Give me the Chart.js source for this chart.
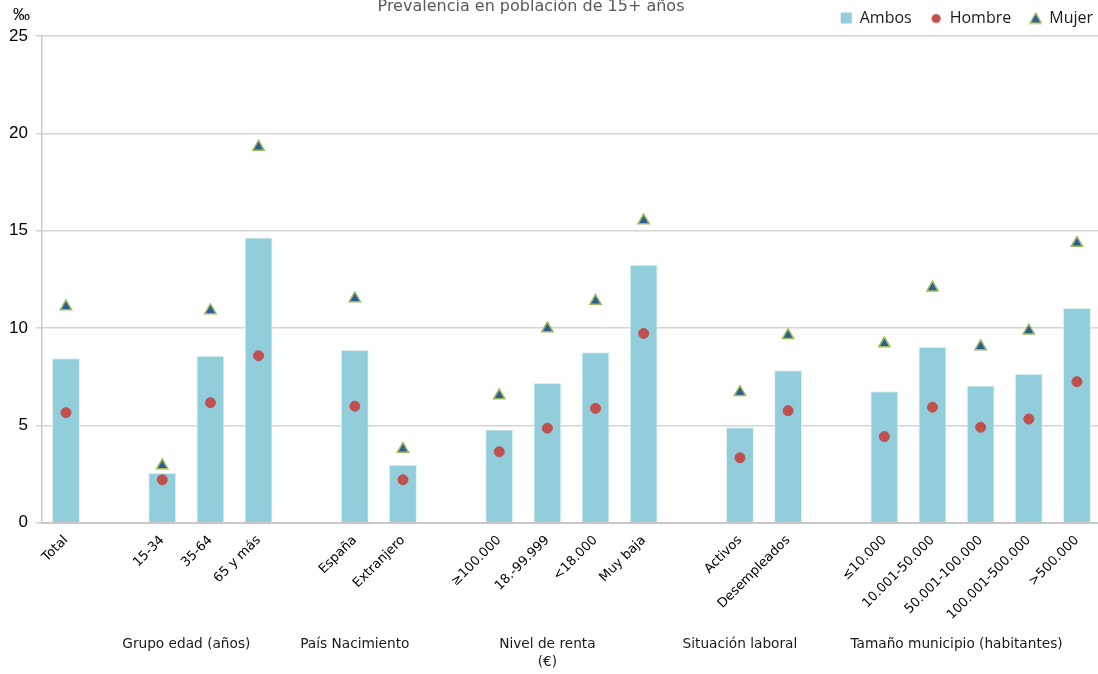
<!DOCTYPE html>
<html>
<head>
<meta charset="utf-8">
<script src="https://cdn.jsdelivr.net/npm/chart.js@4.4.1/dist/chart.umd.min.js"></script>
<style>
  html, body { margin: 0; padding: 0; background: #fff; overflow: hidden; }
  /* wider than the window: the plot runs slightly past the right edge, as in the original */
  #wrap { position: relative; width: 1109px; height: 674px; }
</style>
</head>
<body>
<div id="wrap"><canvas id="prevChart"></canvas></div>
<script>
/* Prevalencia en población de 15+ años — Ambos / Hombre / Mujer */

const categories = ['Total', '', '15-34', '35-64', '65 y más', '', 'España', 'Extranjero', '',
  '≥100.000', '18.-99.999', '<18.000', 'Muy baja', '', 'Activos', 'Desempleados', '',
  '≤10.000', '10.001-50.000', '50.001-100.000', '100.001-500.000', '>500.000'];

const ambos  = [8.45, null, 2.55, 8.57, 14.65, null, 8.87, 2.97, null,
  4.78, 7.17, 8.75, 13.25, null, 4.9, 7.83, null, 6.75, 9.03, 7.05, 7.65, 11.02];
const hombre = [5.65, null, 2.2, 6.16, 8.57, null, 5.98, 2.2, null,
  3.64, 4.85, 5.87, 9.72, null, 3.33, 5.75, null, 4.42, 5.93, 4.9, 5.32, 7.24];
const mujer  = [11.1, null, 2.93, 10.9, 19.3, null, 11.52, 3.78, null,
  6.53, 9.97, 11.38, 15.52, null, 6.7, 9.62, null, 9.2, 12.07, 9.05, 9.86, 14.36];

const yTicks = [0, 5, 10, 15, 20, 25];

// group captions under the axis: [first index, last index, lines]
const groups = [
  [1, 4, ['Grupo edad (años)']],
  [5, 7, ['País Nacimiento']],
  [8, 12, ['Nivel de renta', '(€)']],
  [13, 15, ['Situación laboral']],
  [16, 21, ['Tamaño municipio (habitantes)']]
];

const TITLE = 'Prevalencia en población de 15+ años';
const UNIT = '‰';

const C_AMBOS = '#92cddc';
const C_HOMBRE = '#c0504d';
const C_MUJER = '#2e5c98';
const C_MUJER_EDGE = '#9bbb59';

// small legend glyphs
function glyph(kind) {
  const c = document.createElement('canvas');
  c.width = 13; c.height = 13;
  const g = c.getContext('2d');
  if (kind === 'rect') {
    g.fillStyle = C_AMBOS;
    g.fillRect(1, 1, 11, 11);
  } else if (kind === 'circle') {
    g.fillStyle = C_HOMBRE;
    g.beginPath(); g.arc(6.5, 7, 4.6, 0, Math.PI * 2); g.fill();
  } else {
    g.fillStyle = C_MUJER;
    g.strokeStyle = C_MUJER_EDGE;
    g.lineWidth = 1.3;
    g.beginPath(); g.moveTo(6.5, 1.5); g.lineTo(12, 11.5); g.lineTo(1, 11.5); g.closePath();
    g.fill(); g.stroke();
  }
  return c;
}
const legendGlyphs = { Ambos: glyph('rect'), Hombre: glyph('circle'), Mujer: glyph('triangle') };

const extraText = {
  id: 'extraText',
  afterDraw(chart) {
    const { ctx, scales: { x } } = chart;
    ctx.save();
    // clipped title at the very top
    ctx.font = '16px "DejaVu Sans"';
    ctx.fillStyle = '#595959';
    ctx.textAlign = 'center';
    ctx.textBaseline = 'alphabetic';
    ctx.fillText(TITLE, chart.width / 2 - 23.5, 11);
    // unit above the y axis
    ctx.font = '17px "Liberation Sans"';
    ctx.fillStyle = '#000';
    ctx.textAlign = 'left';
    ctx.fillText(UNIT, 13, 20);
    // group captions
    ctx.font = '13.7px "DejaVu Sans"';
    ctx.fillStyle = '#1a1a1a';
    ctx.textAlign = 'center';
    ctx.textBaseline = 'middle';
    groups.forEach(([a, b, lines]) => {
      const cx = (x.getPixelForValue(a) + x.getPixelForValue(b)) / 2;
      lines.forEach((t, i) => ctx.fillText(t, cx, 644 + i * 18));
    });
    ctx.restore();
  }
};

new Chart(document.getElementById('prevChart'), {
  type: 'bar',
  data: {
    labels: categories,
    datasets: [
      {
        label: 'Ambos',
        data: ambos,
        backgroundColor: C_AMBOS,
        borderColor: '#dff0f5',
        borderWidth: { top: 1, left: 1, right: 1, bottom: 0 },
        categoryPercentage: 1,
        barPercentage: 0.58,
        order: 3
      },
      {
        type: 'line',
        label: 'Hombre',
        data: hombre,
        showLine: false,
        pointStyle: 'circle',
        pointRadius: 5,
        pointBackgroundColor: C_HOMBRE,
        pointBorderColor: C_HOMBRE,
        backgroundColor: C_HOMBRE,
        borderColor: C_HOMBRE,
        order: 2
      },
      {
        type: 'line',
        label: 'Mujer',
        data: mujer,
        showLine: false,
        pointStyle: 'triangle',
        pointRadius: 6.5,
        pointBorderWidth: 1.5,
        pointBackgroundColor: C_MUJER,
        pointBorderColor: C_MUJER_EDGE,
        backgroundColor: C_MUJER,
        borderColor: C_MUJER_EDGE,
        order: 1
      }
    ]
  },
  options: {
    responsive: true,
    maintainAspectRatio: false,
    animation: false,
    layout: { padding: { top: -9, left: 1, right: -3, bottom: 49 } },
    plugins: {
      legend: {
        position: 'top',
        align: 'end',
        reverse: true,
        labels: {
          usePointStyle: true,
          boxWidth: 11,
          boxHeight: 11,
          padding: 19,
          color: '#1a1a1a',
          font: { family: '"Open Sans"', size: 16 },
          generateLabels: chart => Chart.defaults.plugins.legend.labels.generateLabels(chart)
            .map(l => ({ ...l, pointStyle: legendGlyphs[l.text] }))
        }
      },
      tooltip: { enabled: false }
    },
    scales: {
      x: {
        grid: { display: false },
        border: { color: '#c8c8c8', width: 2 },
        ticks: {
          autoSkip: false,
          maxRotation: 45,
          minRotation: 45,
          padding: 2,
          color: '#000',
          font: { family: '"DejaVu Sans"', size: 13 }
        }
      },
      y: {
        min: 0,
        max: 25,
        afterBuildTicks: axis => { axis.ticks = yTicks.map(v => ({ value: v })); },
        grid: { color: '#d4d4d4', lineWidth: 1.5, tickLength: 6 },
        border: { color: '#c8c8c8', width: 1.5 },
        ticks: {
          padding: 8,
          color: '#000',
          font: { family: '"Liberation Sans"', size: 17 }
        }
      }
    }
  },
  plugins: [extraText]
});
</script>
</body>
</html>
